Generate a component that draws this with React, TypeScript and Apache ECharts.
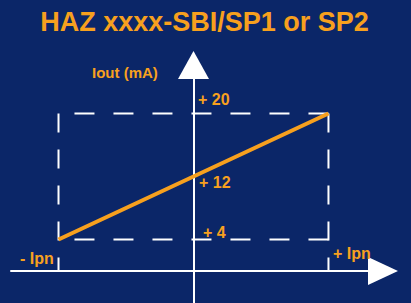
import React, { useEffect, useRef } from "react";
import * as echarts from "echarts";

// Data
const ipnRange = [-1, 1]; // -Ipn .. +Ipn
const ioutRange = [4, 20]; // mA
const ioutMid = 12;
const xExtent = [-1.352, 1.404];
const yExtent = [-4.063, 26.159];
const titleText = "HAZ xxxx-SBI/SP1 or SP2";
const yAxisName = "Iout (mA)";
const tickLabels = ["+ 20", "+ 12", "+ 4"];
const xLabels = ["- Ipn", "+ Ipn"];

const BG = "#0b2668";
const ORANGE = "#f7a01e";
const WHITE = "#ffffff";
const FONT = "'Liberation Sans', Arial, sans-serif";

export default function App() {
  const ref = useRef<HTMLDivElement>(null);
  useEffect(() => {
    document.body.style.margin = "0";
    if (!ref.current) return;
    const chart = echarts.init(ref.current, null, { renderer: "svg" });
    const [xl, xr] = ipnRange;
    const [y0, y1] = ioutRange;
    const dashV = { color: WHITE, width: 2, type: [19, 17] as number[] };
    const dashH = { color: WHITE, width: 2, type: [20, 19] as number[] };
    const lbl = (text: string, x: number, y: number, size = 16, align = "left") => ({
      type: "text",
      x,
      y,
      style: {
        text,
        fill: ORANGE,
        font: `bold ${size}px ${FONT}`,
        align,
        verticalAlign: "middle",
      },
      z: 10,
    });
    chart.setOption({
      animation: false,
      backgroundColor: BG,
      grid: { left: 11, right: 28, top: 65, bottom: 0, outerBoundsMode: "none" },
      xAxis: {
        type: "value",
        min: xExtent[0],
        max: xExtent[1],
        axisLine: {
          show: true,
          onZero: true,
          symbol: ["none", "triangle"],
          symbolSize: [28, 30],
          lineStyle: { color: WHITE, width: 2 },
        },
        axisTick: { show: false },
        axisLabel: { show: false },
        splitLine: { show: false },
      },
      yAxis: {
        type: "value",
        min: yExtent[0],
        max: yExtent[1],
        axisLine: {
          show: true,
          onZero: true,
          symbol: ["none", "triangle"],
          symbolSize: [31, 28],
          lineStyle: { color: WHITE, width: 2 },
        },
        axisTick: { show: false },
        axisLabel: { show: false },
        splitLine: { show: false },
      },
      series: [
        { type: "line", data: [[xl, y1], [xl, 0]], showSymbol: false, lineStyle: dashV, z: 2 },
        { type: "line", data: [[xr, y1], [xr, 0]], showSymbol: false, lineStyle: dashV, z: 2 },
        { type: "line", data: [[xr, y1], [xl, y1]], showSymbol: false, lineStyle: dashH, z: 2 },
        { type: "line", data: [[xr, y0], [xl, y0]], showSymbol: false, lineStyle: dashH, z: 2 },
        {
          type: "line",
          data: [[xl, y0], [0, ioutMid], [xr, y1]],
          showSymbol: false,
          lineStyle: { color: ORANGE, width: 4, cap: "butt" },
          z: 5,
        },
      ],
      graphic: [
        lbl(titleText, 204.5, 21.5, 27, "center"),
        lbl(yAxisName, 92, 72, 15),
        lbl(tickLabels[0], 198, 99.5),
        lbl(tickLabels[1], 199, 182.5),
        lbl(tickLabels[2], 203, 232.5),
        lbl(xLabels[0], 20, 258),
        lbl(xLabels[1], 333, 253),
      ],
    });
    return () => chart.dispose();
  }, []);
  return <div ref={ref} style={{ width: 411, height: 303 }} />;
}
